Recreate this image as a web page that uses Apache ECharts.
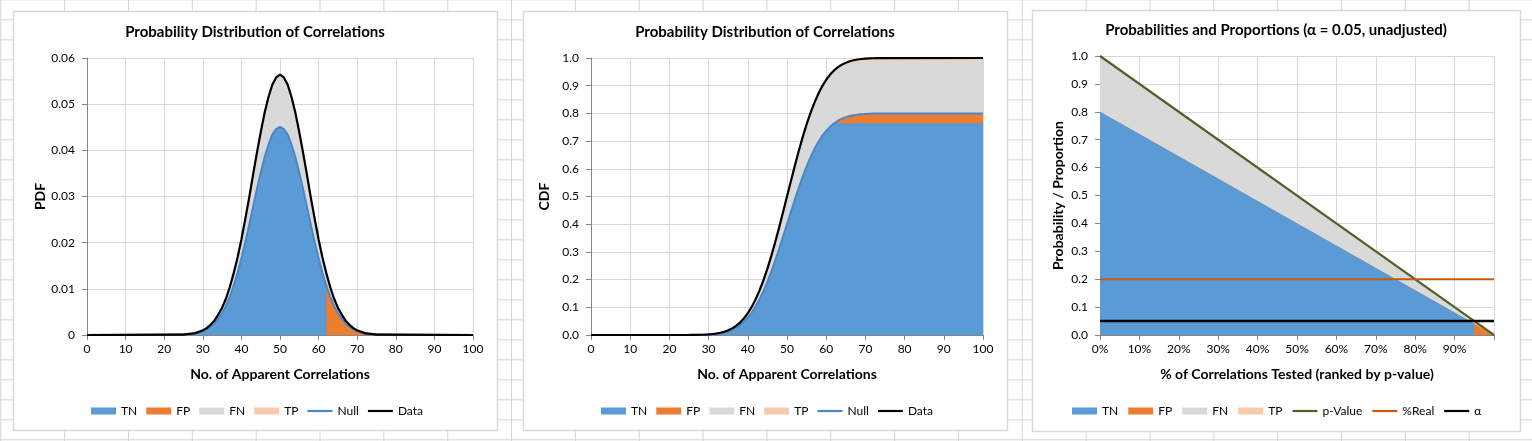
<!DOCTYPE html>
<html>
<head>
<meta charset="utf-8">
<script src="https://cdn.jsdelivr.net/npm/echarts@6/dist/echarts.min.js"></script>
<style>
html,body{margin:0;padding:0;width:1532px;height:441px;overflow:hidden;}
body{background-color:#fff;
background-image:linear-gradient(to right,#d4d4d4 1px,transparent 1px),linear-gradient(to bottom,#d4d4d4 1px,transparent 1px);
background-size:63.85px 20px;background-position:0.3px -0.7px;}
#c{width:1532px;height:441px;}
</style>
</head>
<body>
<div id="c"></div>
<script>
// ---------- Chart 1: PDF ----------
const pdfX = [0,24,25,26,27,28,29,30,31,32,33,34,35,36,37,38,39,40,41,42,43,44,45,46,47,48,49,50,51,52,53,54,55,56,57,58,59,60,61,62,62,63,64,65,66,67,68,69,70,71,72,73,74,75,76,100];
const pdfData = [0,0.0001,0.0001,0.0002,0.0003,0.0004,0.0007,0.0010,0.0015,0.0022,0.0031,0.0044,0.0059,0.0079,0.0104,0.0134,0.0168,0.0207,0.0251,0.0297,0.0346,0.0394,0.0439,0.0481,0.0515,0.0542,0.0558,0.0564,0.0558,0.0542,0.0515,0.0481,0.0439,0.0394,0.0346,0.0297,0.0251,0.0207,0.0168,0.0134,0.0134,0.0104,0.0079,0.0059,0.0044,0.0031,0.0022,0.0015,0.0010,0.0007,0.0004,0.0003,0.0002,0.0001,0.0001,0];
const pdfNull = [0,0.0001,0.0001,0.0002,0.0002,0.0003,0.0006,0.0008,0.0012,0.0018,0.0025,0.0035,0.0047,0.0063,0.0083,0.0107,0.0134,0.0166,0.0201,0.0238,0.0277,0.0315,0.0351,0.0385,0.0412,0.0434,0.0446,0.0451,0.0446,0.0434,0.0412,0.0385,0.0351,0.0315,0.0277,0.0238,0.0201,0.0166,0.0134,0.0107,0.0107,0.0083,0.0063,0.0047,0.0035,0.0025,0.0018,0.0012,0.0008,0.0006,0.0003,0.0002,0.0002,0.0001,0.0001,0];
const pdfTN = [0,0.0001,0.0001,0.0002,0.0002,0.0003,0.0006,0.0008,0.0012,0.0018,0.0025,0.0035,0.0047,0.0063,0.0083,0.0107,0.0134,0.0166,0.0201,0.0238,0.0277,0.0315,0.0351,0.0385,0.0412,0.0434,0.0446,0.0451,0.0446,0.0434,0.0412,0.0385,0.0351,0.0315,0.0277,0.0238,0.0201,0.0166,0.0134,0.0107,0,0,0,0,0,0,0,0,0,0,0,0,0,0,0,0];
const pdfFP = [0,0,0,0,0,0,0,0,0,0,0,0,0,0,0,0,0,0,0,0,0,0,0,0,0,0,0,0,0,0,0,0,0,0,0,0,0,0,0,0,0.0107,0.0083,0.0063,0.0047,0.0035,0.0025,0.0018,0.0012,0.0008,0.0006,0.0003,0.0002,0.0002,0.0001,0.0001,0];
const pdfFN = [0,0,0,0,0.0001,0.0001,0.0001,0.0002,0.0003,0.0004,0.0006,0.0009,0.0012,0.0016,0.0021,0.0027,0.0034,0.0041,0.0050,0.0059,0.0069,0.0079,0.0088,0.0096,0.0103,0.0108,0.0112,0.0113,0.0112,0.0108,0.0103,0.0096,0.0088,0.0079,0.0069,0.0059,0.0050,0.0041,0.0034,0.0027,0,0,0,0,0,0,0,0,0,0,0,0,0,0,0,0];
const pdfTP = [0,0,0,0,0,0,0,0,0,0,0,0,0,0,0,0,0,0,0,0,0,0,0,0,0,0,0,0,0,0,0,0,0,0,0,0,0,0,0,0,0.0027,0.0021,0.0016,0.0012,0.0009,0.0006,0.0004,0.0003,0.0002,0.0001,0.0001,0.0001,0,0,0,0];

// ---------- Chart 2: CDF ----------
const cdfX = [0,25,26,27,28,29,30,31,32,33,34,35,36,37,38,39,40,41,42,43,44,45,46,47,48,49,50,51,52,53,54,55,56,57,58,59,60,61,62,63,64,65,66,67,68,69,70,71,72,73,74,75,100];
const cdfData = [0,0.0002,0.0003,0.0006,0.0009,0.0015,0.0023,0.0036,0.0055,0.0081,0.0118,0.0169,0.0239,0.0330,0.0448,0.0599,0.0786,0.1015,0.1289,0.1611,0.1981,0.2398,0.2858,0.3357,0.3886,0.4438,0.5000,0.5562,0.6114,0.6643,0.7142,0.7602,0.8019,0.8389,0.8711,0.8985,0.9214,0.9401,0.9552,0.9670,0.9761,0.9831,0.9882,0.9919,0.9945,0.9964,0.9977,0.9985,0.9991,0.9994,0.9997,0.9998,1];
const cdfNull = [0,0.0002,0.0002,0.0005,0.0007,0.0012,0.0018,0.0029,0.0044,0.0065,0.0094,0.0135,0.0191,0.0264,0.0358,0.0479,0.0629,0.0812,0.1031,0.1289,0.1585,0.1918,0.2286,0.2686,0.3109,0.3550,0.4000,0.4450,0.4891,0.5314,0.5714,0.6082,0.6415,0.6711,0.6969,0.7188,0.7371,0.7521,0.7642,0.7736,0.7809,0.7865,0.7906,0.7935,0.7956,0.7971,0.7982,0.7988,0.7993,0.7995,0.7998,0.7998,0.8];
const cdfTN = [0,0.0002,0.0002,0.0005,0.0007,0.0012,0.0018,0.0029,0.0044,0.0065,0.0094,0.0135,0.0191,0.0264,0.0358,0.0479,0.0629,0.0812,0.1031,0.1289,0.1585,0.1918,0.2286,0.2686,0.3109,0.3550,0.4000,0.4450,0.4891,0.5314,0.5714,0.6082,0.6415,0.6711,0.6969,0.7188,0.7371,0.7521,0.7642,0.7642,0.7642,0.7642,0.7642,0.7642,0.7642,0.7642,0.7642,0.7642,0.7642,0.7642,0.7642,0.7642,0.7642];
const cdfFP = [0,0,0,0,0,0,0,0,0,0,0,0,0,0,0,0,0,0,0,0,0,0,0,0,0,0,0,0,0,0,0,0,0,0,0,0,0,0,0,0.0094,0.0167,0.0223,0.0264,0.0293,0.0314,0.0329,0.0340,0.0346,0.0351,0.0353,0.0356,0.0356,0.0358];
const cdfFN = [0,0,0.0001,0.0001,0.0002,0.0003,0.0005,0.0007,0.0011,0.0016,0.0024,0.0034,0.0048,0.0066,0.0090,0.0120,0.0157,0.0203,0.0258,0.0322,0.0396,0.0480,0.0572,0.0671,0.0777,0.0888,0.1000,0.1112,0.1223,0.1329,0.1428,0.1520,0.1604,0.1678,0.1742,0.1797,0.1843,0.1880,0.1910,0.1910,0.1910,0.1910,0.1910,0.1910,0.1910,0.1910,0.1910,0.1910,0.1910,0.1910,0.1910,0.1910,0.1910];
const cdfTP = [0,0,0,0,0,0,0,0,0,0,0,0,0,0,0,0,0,0,0,0,0,0,0,0,0,0,0,0,0,0,0,0,0,0,0,0,0,0,0,0.0024,0.0042,0.0056,0.0066,0.0074,0.0079,0.0083,0.0085,0.0087,0.0088,0.0089,0.0089,0.0090,0.0090];

// ---------- Chart 3: probabilities & proportions ----------
const ppX = [0,0.95,0.95,1];
const ppTN = [0.8,0.04,0,0];
const ppFP = [0,0,0.04,0];
const ppFN = [0.2,0.01,0,0];
const ppTP = [0,0,0.01,0];
const ppPValue = [1,0.05,0.05,0];
const ppReal = [0.2,0.2,0.2,0.2];
const ppAlpha = [0.05,0.05,0.05,0.05];

const titles = ['Probability Distribution of Correlations','Probability Distribution of Correlations','Probabilities and Proportions (\u03b1 = 0.05, unadjusted)'];
const xNames = ['No. of Apparent Correlations','No. of Apparent Correlations','% of Correlations Tested (ranked by p-value)'];
const yNames = ['PDF','CDF','Probability / Proportion'];
const legend12 = ['TN','FP','FN','TP','Null','Data'];
const legend3 = ['TN','FP','FN','TP','p-Value','%Real','\u03b1'];

const FONT = 'Lato, "Open Sans", "Noto Sans", sans-serif';
const C = {TN:'#5b9bd5', FP:'#ed7d31', FN:'#d9d9d9', TP:'#f8cbad', Null:'#4a86c8', Data:'#000000',
           'p-Value':'#4f6228', '%Real':'#c55a11', '\u03b1':'#000000'};
const lineNames = ['Null','Data','p-Value','%Real','\u03b1'];

function zip(xs, ys){ return xs.map((x,i)=>[x, ys[i]]); }
// Stacked areas drawn as layered cumulative areas (largest first), each filled to the axis.
function stackedAreas(xs, parts, idx){
  // parts: [[name, values], ...] from bottom to top
  const out = [];
  const cum = [];
  let run = xs.map(() => 0);
  parts.forEach(p => { run = run.map((v,i) => v + p[1][i]); cum.push([p[0], run]); });
  for (let k = cum.length - 1; k >= 0; k--) {
    const name = cum[k][0];
    out.push({name, type:'line', xAxisIndex:idx, yAxisIndex:idx, data:zip(xs, cum[k][1]),
      symbol:'none', showSymbol:false, color:C[name], lineStyle:{width:0, color:C[name]},
      areaStyle:{color:C[name], opacity:1, origin:'start'}, z:2, silent:true});
  }
  return out;
}
function line(name, xs, ys, idx, w){
  return {name, type:'line', xAxisIndex:idx, yAxisIndex:idx, data:zip(xs,ys),
    symbol:'none', showSymbol:false, color:C[name], lineStyle:{width:w, color:C[name]}, z:4, silent:true};
}
function axisBase(){
  return {
    axisLine:{show:true, onZero:false, lineStyle:{color:'#868686', width:1}},
    axisTick:{show:true, length:5, lineStyle:{color:'#868686'}},
    splitLine:{show:true, lineStyle:{color:'#d9d9d9', width:1}},
    axisLabel:{color:'#000', fontFamily:FONT, fontSize:12},
    nameLocation:'middle',
    nameTextStyle:{color:'#000', fontFamily:FONT, fontSize:14, fontWeight:'bold'}
  };
}
function legendData(names){
  return names.map(n => lineNames.indexOf(n) >= 0
    ? {name:n, icon:'path://M0,0h25v2.2h-25Z'}
    : {name:n, icon:'rect'});
}

const grids = [
  {left:87, top:58, width:386, height:277},
  {left:591, top:58, width:392, height:277},
  {left:1100, top:56, width:394, height:279}
];
const xAxes = [
  Object.assign(axisBase(), {type:'value', gridIndex:0, min:0, max:100, interval:10, name:xNames[0], nameGap:32}),
  Object.assign(axisBase(), {type:'value', gridIndex:1, min:0, max:100, interval:10, name:xNames[1], nameGap:32}),
  Object.assign(axisBase(), {type:'value', gridIndex:2, min:0, max:1, interval:0.1, name:xNames[2], nameGap:32})
];
xAxes[2].axisLabel = Object.assign({}, xAxes[2].axisLabel, {formatter: v => v >= 0.999 ? '' : Math.round(v*100) + '%'});
const yAxes = [
  Object.assign(axisBase(), {type:'value', gridIndex:0, min:0, max:0.06, interval:0.01, name:yNames[0], nameGap:40}),
  Object.assign(axisBase(), {type:'value', gridIndex:1, min:0, max:1, interval:0.1, name:yNames[1], nameGap:40}),
  Object.assign(axisBase(), {type:'value', gridIndex:2, min:0, max:1, interval:0.1, name:yNames[2], nameGap:35})
];
yAxes[0].axisLabel = Object.assign({}, yAxes[0].axisLabel, {margin:12, formatter: v => v === 0 ? '0' : v.toFixed(2)});
yAxes[1].axisLabel = Object.assign({}, yAxes[1].axisLabel, {margin:12, formatter: v => v.toFixed(1)});
yAxes[2].axisLabel = Object.assign({}, yAxes[2].axisLabel, {margin:12, formatter: v => v.toFixed(1)});

const series = [].concat(
  stackedAreas(pdfX, [['TN',pdfTN],['FP',pdfFP],['FN',pdfFN],['TP',pdfTP]], 0),
  [line('Null', pdfX, pdfNull, 0, 2), line('Data', pdfX, pdfData, 0, 2.2)],
  stackedAreas(cdfX, [['TN',cdfTN],['FP',cdfFP],['FN',cdfFN],['TP',cdfTP]], 1),
  [line('Null', cdfX, cdfNull, 1, 2), line('Data', cdfX, cdfData, 1, 2.2)],
  stackedAreas(ppX, [['TN',ppTN],['FP',ppFP],['FN',ppFN],['TP',ppTP]], 2),
  [line('p-Value', ppX, ppPValue, 2, 2.2), line('%Real', ppX, ppReal, 2, 2), line('\u03b1', ppX, ppAlpha, 2, 2.5)]
);

const legendBase = {top:405, padding:0, itemWidth:25, itemHeight:7, itemGap:9, selectedMode:false,
  itemStyle:{borderWidth:0}, textStyle:{color:'#000', fontFamily:FONT, fontSize:12}};
const legends = [
  Object.assign({}, legendBase, {left:91, data:legendData(legend12)}),
  Object.assign({}, legendBase, {left:601, data:legendData(legend12)}),
  Object.assign({}, legendBase, {left:1072, itemGap:10, data:legendData(legend3)})
];

const boxes = [[13,11,484,419],[523,11,484,419],[1032,10,488,421]];
const titlePos = [[255,32],[765,32],[1276,30]];
const graphic = [];
boxes.forEach(b => graphic.push({type:'rect', z:-10, shape:{x:b[0]+0.5, y:b[1]+0.5, width:b[2], height:b[3]},
  style:{fill:'#fff', stroke:'#d9d9d9', lineWidth:1.5}}));
titlePos.forEach((p,i) => graphic.push({type:'text', z:10, x:p[0], y:p[1],
  style:{text:titles[i], fill:'#000', font:'bold 15px ' + FONT, textAlign:'center', textVerticalAlign:'middle', align:'center', verticalAlign:'middle'}}));

const chart = echarts.init(document.getElementById('c'), null, {renderer:'canvas'});
chart.setOption({
  animation:false,
  backgroundColor:'transparent',
  grid:grids, xAxis:xAxes, yAxis:yAxes, series:series, legend:legends, graphic:graphic
});
</script>
</body>
</html>
